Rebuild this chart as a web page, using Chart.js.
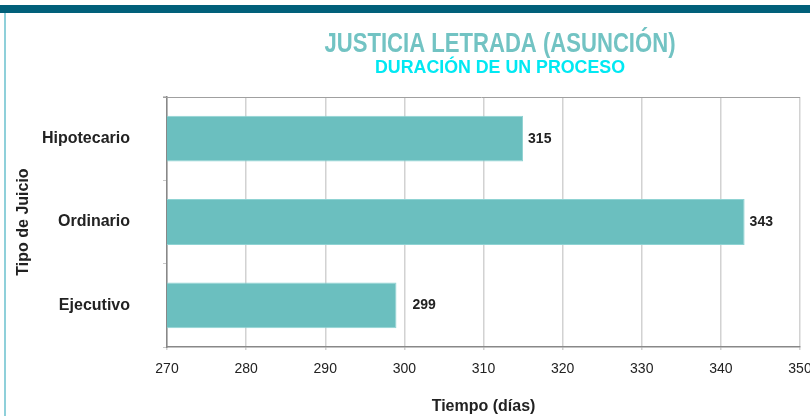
<!DOCTYPE html>
<html>
<head>
<meta charset="utf-8">
<script src="https://cdn.jsdelivr.net/npm/chart.js@4"></script>
<style>
  html,body{margin:0;padding:0;background:#fff;}
  #wrap{width:810px;height:416px;position:relative;}
</style>
</head>
<body>
<div id="wrap"><canvas id="chart" width="810" height="416"></canvas></div>
<script>
// ----------------- Data -----------------
const tipos = ["Hipotecario", "Ordinario", "Ejecutivo"];
const dias = [315, 343, 299];
const xTicks = [270, 280, 290, 300, 310, 320, 330, 340, 350];

const titulo = "JUSTICIA LETRADA (ASUNCIÓN)";
const subtitulo = "DURACIÓN DE UN PROCESO";

const barColor = "#6bbfbf";
const textColor = "#222";
const gridColor = "#d2d2d2";
const FONT = "'Liberation Sans', Arial, sans-serif";

// condensed heading text: squeeze horizontally to a given width
function squeezeText(c, text, cx, cy, w){
  const natural = c.measureText(text).width;
  c.save();
  c.translate(cx, cy);
  c.scale(w / natural, 1);
  c.fillText(text, 0, 0);
  c.restore();
}

// ----------------- Frame + titles -----------------
const frame = {
  id: "frame",
  beforeDraw(chart){
    const c = chart.ctx;
    c.save();
    c.fillStyle = "#01607a";
    c.fillRect(0, 5, 810, 8);
    c.fillStyle = "#8fd0da";
    c.fillRect(4, 13, 2, 403);
    c.restore();
  },
  afterDraw(chart){
    const c = chart.ctx, a = chart.chartArea;
    c.save();
    c.textAlign = "center";
    c.textBaseline = "alphabetic";
    c.fillStyle = "#72c3c3";
    c.font = "bold 28px " + FONT;
    squeezeText(c, titulo, 500, 52, 351);
    c.fillStyle = "#00e8f2";
    c.font = "bold 18px " + FONT;
    squeezeText(c, subtitulo, 500, 73, 250);
    // top border of plot
    c.strokeStyle = "#a0a0a0";
    c.lineWidth = 1;
    c.beginPath();
    c.moveTo(a.left - 4, a.top + 0.5);
    c.lineTo(a.right, a.top + 0.5);
    c.stroke();
    c.restore();
  }
};

// ----------------- Value labels -----------------
const valueLabels = {
  id: "valueLabels",
  afterDatasetsDraw(chart){
    const c = chart.ctx;
    const meta = chart.getDatasetMeta(0);
    c.save();
    c.fillStyle = textColor;
    c.font = "bold 14px " + FONT;
    c.textBaseline = "middle";
    meta.data.forEach((bar, i)=>{
      c.fillText(String(dias[i]), bar.x + (dias[i] < 300 ? 16 : 5), bar.y);
    });
    c.restore();
  }
};

new Chart(document.getElementById("chart"), {
  type: "bar",
  data: {
    labels: tipos,
    datasets: [{
      data: dias,
      backgroundColor: barColor,
      borderColor: "#8fd3d3",
      borderWidth: 1,
      borderSkipped: "left",
      categoryPercentage: 1,
      barPercentage: 0.55
    }]
  },
  options: {
    indexAxis: "y",
    responsive: false,
    animation: false,
    layout: { padding: { left: 5, top: 97, right: 10, bottom: 0 } },
    plugins: { legend: { display: false }, tooltip: { enabled: false } },
    scales: {
      x: {
        min: 270, max: 350,
        afterFit(s){ s.height = 69; s.paddingLeft = 0; s.paddingRight = 0; },
        afterBuildTicks(s){ s.ticks = xTicks.map(v=>({ value: v })); },
        grid: { color: gridColor, lineWidth: 1.5, tickLength: 3 },
        border: { color: "#888", width: 1.5 },
        ticks: { color: textColor, padding: 11, font: { family: FONT, size: 14 } },
        title: {
          display: true, text: "Tiempo (días)", color: textColor,
          padding: { top: 12, bottom: 0 },
          font: { family: FONT, size: 16, weight: "bold" }
        }
      },
      y: {
        afterFit(s){ s.width = 162; },
        grid: { color: "#c8c8c8", drawOnChartArea: false, tickLength: 4, offset: true },
        border: { color: "#888", width: 1.5 },
        ticks: { color: textColor, padding: 33, font: { family: FONT, size: 16, weight: "bold" } },
        title: {
          display: true, text: "Tipo de Juicio", color: textColor,
          padding: { top: 9, bottom: 0 },
          font: { family: FONT, size: 16, weight: "bold" }
        }
      }
    }
  },
  plugins: [frame, valueLabels]
});
</script>
</body>
</html>
